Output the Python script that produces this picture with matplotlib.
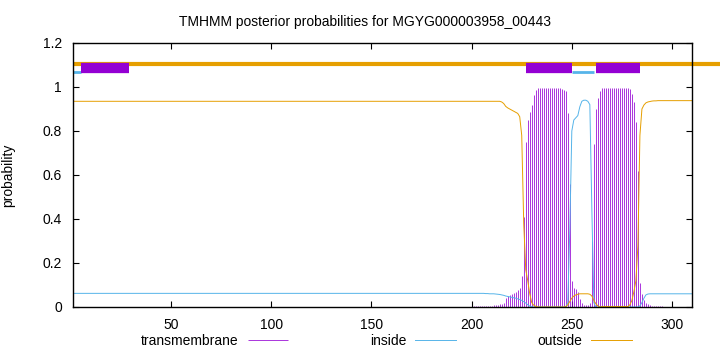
import numpy as np
import matplotlib
matplotlib.use("Agg")
import matplotlib.pyplot as plt

plt.rcParams['font.family'] = ['Liberation Sans', 'DejaVu Sans']
plt.rcParams['font.size'] = 10

# per-residue posterior probabilities, residues 1..310
residues = np.arange(1, 311)

outside = ([0.935] * 214
           + [0.932, 0.925, 0.912, 0.905, 0.90, 0.895, 0.89, 0.885, 0.88,
              0.865, 0.78, 0.38, 0.17, 0.12, 0.06, 0.02, 0.008, 0.003]
           + [0.0] * 14
           + [0.002, 0.01, 0.025, 0.04, 0.05, 0.055, 0.058, 0.06, 0.06,
              0.06, 0.06, 0.06, 0.058, 0.05, 0.03, 0.015, 0.005, 0.0]
           + [0.002] * 14
           + [0.01, 0.03, 0.07, 0.12, 0.28, 0.78, 0.90, 0.918, 0.928,
              0.932, 0.934, 0.936, 0.937, 0.937, 0.938, 0.938, 0.938]
           + [0.938] * 15)

inside = ([0.062] * 205
          + [0.062, 0.061, 0.061, 0.06, 0.06, 0.06, 0.059, 0.058, 0.057,
             0.055, 0.053, 0.05, 0.048, 0.046, 0.044, 0.042, 0.04, 0.037,
             0.034, 0.03, 0.024, 0.018, 0.01, 0.004, 0.001, 0.0, 0.0]
          + [0.0] * 14
          + [0.0, 0.02, 0.35, 0.80, 0.85, 0.86, 0.87, 0.91, 0.935, 0.94,
             0.94, 0.935, 0.92, 0.45, 0.02, 0.0]
          + [0.0] * 21
          + [0.005, 0.02, 0.04, 0.055, 0.059, 0.06, 0.06]
          + [0.06] * 20)

transmembrane = ([0.0] * 164
                 + [0.001] * 21 + [0.002] * 15 + [0.004] * 8
                 + [0.005, 0.006, 0.007, 0.008, 0.01, 0.012]
                 + [0.014, 0.02, 0.04, 0.05, 0.055, 0.059, 0.064, 0.07, 0.077,
                    0.086, 0.14, 0.41, 0.75, 0.85, 0.885, 0.918, 0.964, 0.986]
                 + [0.994] * 12
                 + [0.99, 0.985, 0.98, 0.88, 0.56, 0.12, 0.085, 0.08, 0.07,
                    0.035, 0.02, 0.01, 0.008, 0.01, 0.02, 0.30, 0.74, 0.90]
                 + [0.95, 0.98]
                 + [0.994] * 14
                 + [0.99, 0.97, 0.93, 0.84, 0.62, 0.11, 0.06, 0.03, 0.02,
                    0.012, 0.008, 0.005]
                 + [0.003] * 5
                 + [0.0] * 15)

# predicted topology segments drawn above the curves
outside_segs = [(1, 325)]
tm_segs = [(5, 29), (227, 250), (262, 284)]
inside_segs = [(1, 5), (250, 261)]

c_tm = '#9400d3'
c_in = '#56b4e9'
c_out = '#e69f00'

fig = plt.figure(figsize=(7.2, 3.52), dpi=100)
ax = fig.add_axes([73 / 720, 1 - 307 / 352, 619 / 720, 264 / 352])

ax.vlines(residues, 0, transmembrane, color=c_tm, lw=0.65, alpha=0.85,
          label='transmembrane')
ax.plot(residues, inside, color=c_in, lw=0.7, label='inside')
ax.plot(residues, outside, color=c_out, lw=0.7, label='outside')

for a, b in outside_segs:
    ax.plot([a, b], [1.106, 1.106], color=c_out, lw=3, solid_capstyle='butt',
            clip_on=False)
for a, b in inside_segs:
    ax.plot([a, b], [1.067, 1.067], color=c_in, lw=2, solid_capstyle='butt')
for a, b in tm_segs:
    ax.plot([a, b], [1.086, 1.086], color=c_tm, lw=7.4, solid_capstyle='butt')

ax.set_xlim(1, 310)
ax.set_ylim(0, 1.2)
ax.set_xticks([50, 100, 150, 200, 250, 300])
ax.set_yticks([0, 0.2, 0.4, 0.6, 0.8, 1.0, 1.2])
ax.set_yticklabels(['0', '0.2', '0.4', '0.6', '0.8', '1', '1.2'])
ax.tick_params(direction='in', top=True, right=True, length=4, width=0.8,
               pad=8)
for s in ax.spines.values():
    s.set_linewidth(1)
ax.set_ylabel('probability')
ax.yaxis.set_label_coords(-0.094, 0.5)
ax.set_title('TMHMM posterior probabilities for MGYG000003958_00443',
             fontsize=10, pad=12, x=0.4725)

fig.legend(loc='center left', bbox_to_anchor=(134 / 720, 1 - 341 / 352),
           ncol=3, frameon=False, markerfirst=False, borderpad=0,
           handlelength=2.9, handletextpad=0.65, columnspacing=5.9)

fig.savefig('out.png', dpi=100)
